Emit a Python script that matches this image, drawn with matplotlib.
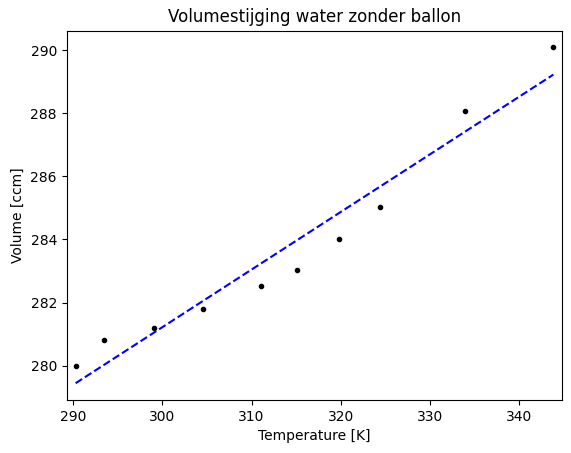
import matplotlib
matplotlib.use("Agg")
import matplotlib.pyplot as plt

temperature_k = [290.3, 293.45, 299.05, 304.55, 311.05, 315.05, 319.75, 324.35, 333.95, 343.8]
volume_ccm = [280.0, 280.82, 281.2, 281.8, 282.53, 283.04, 284.02, 285.04, 288.09, 290.09]

# fitted line end points
fit_temperature = [290.3, 343.8]
fit_volume = [279.44, 289.23]

fig = plt.figure(figsize=(5.71, 4.53), dpi=100)
ax = fig.add_axes([0.1168, 0.117, 0.868, 0.8152])

ax.plot(temperature_k, volume_ccm, "k.")
ax.plot(fit_temperature, fit_volume, "b--")

ax.set_xlim(min(temperature_k) - 1, max(temperature_k) + 1)
ax.set_title("Volumestijging water zonder ballon")
ax.set_xlabel("Temperature [K]")
ax.set_ylabel("Volume [ccm]")

fig.savefig("out.png", dpi=100)
plt.close(fig)
